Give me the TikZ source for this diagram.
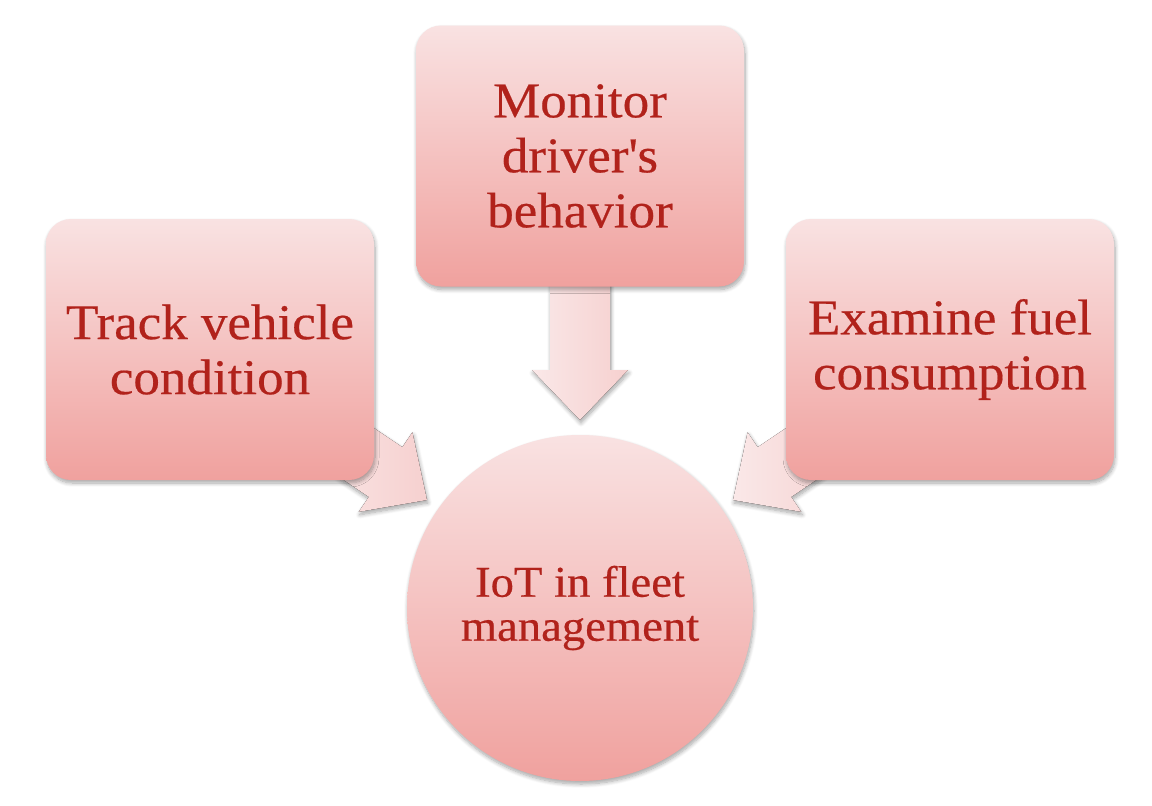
\documentclass[tikz,border=0pt]{standalone}
\usepackage{fontspec}
\setmainfont{Liberation Serif}[FakeStretch=1.06, FakeBold=0.4]
\usetikzlibrary{shadows.blur}
\definecolor{txt}{HTML}{B1221B}
\definecolor{boxtop}{HTML}{F9E2E2}
\definecolor{boxbot}{HTML}{F0A19E}
\definecolor{arrtop}{HTML}{FAE8E8}
\definecolor{arrbot}{HTML}{F6D0CF}
\tikzset{
  softshadow/.style={blur shadow={shadow xshift=1pt, shadow yshift=-3pt, shadow blur radius=4pt, shadow blur steps=8, shadow opacity=35}},
  sbox/.style={rectangle, rounded corners=25pt, minimum width=328pt, minimum height=261pt,
    top color=boxtop, bottom color=boxbot, draw=none, softshadow,
    text=txt, align=center, font=\fontsize{50}{55}\selectfont},
  hub/.style={circle, minimum size=346pt, inner sep=0pt,
    top color=boxtop, bottom color=boxbot, draw=none, softshadow,
    text=txt, align=center, font=\fontsize{44}{44}\selectfont},
  fatarrow/.style={left color=arrtop, right color=arrbot, draw=none, softshadow}
}
\newcommand{\fatarrowpath}[1]{(0,0) -- (-50,48) -- (-50,30) -- (-#1,30) -- (-#1,-30) -- (-50,-30) -- (-50,-48) -- cycle}
\begin{document}
\begin{tikzpicture}[x=1pt,y=-1pt]
\useasboundingbox (0,0) rectangle (1152,806);
% arrow tips
\coordinate (tipL) at (427,500);
\coordinate (tipT) at (580,420);
\coordinate (tipR) at (733,500);
% arrows
\fill[fatarrow, shift={(tipT)}, rotate=-90] \fatarrowpath{140};
\fill[fatarrow, shift={(tipL)}, rotate=-34] \fatarrowpath{130};
\fill[fatarrow, shift={(tipR)}, rotate=-146] \fatarrowpath{130};
% boxes
\node[sbox] (left) at (210,349.5) {Track vehicle\\condition};
\node[sbox] (top) at (580,156) {Monitor\\driver\textquotesingle s\\behavior};
\node[sbox] (right) at (950,349.5) {Examine fuel\\consumption};
\node[hub] (hub) at (580,608) {IoT in fleet\\management};
\end{tikzpicture}
\end{document}
